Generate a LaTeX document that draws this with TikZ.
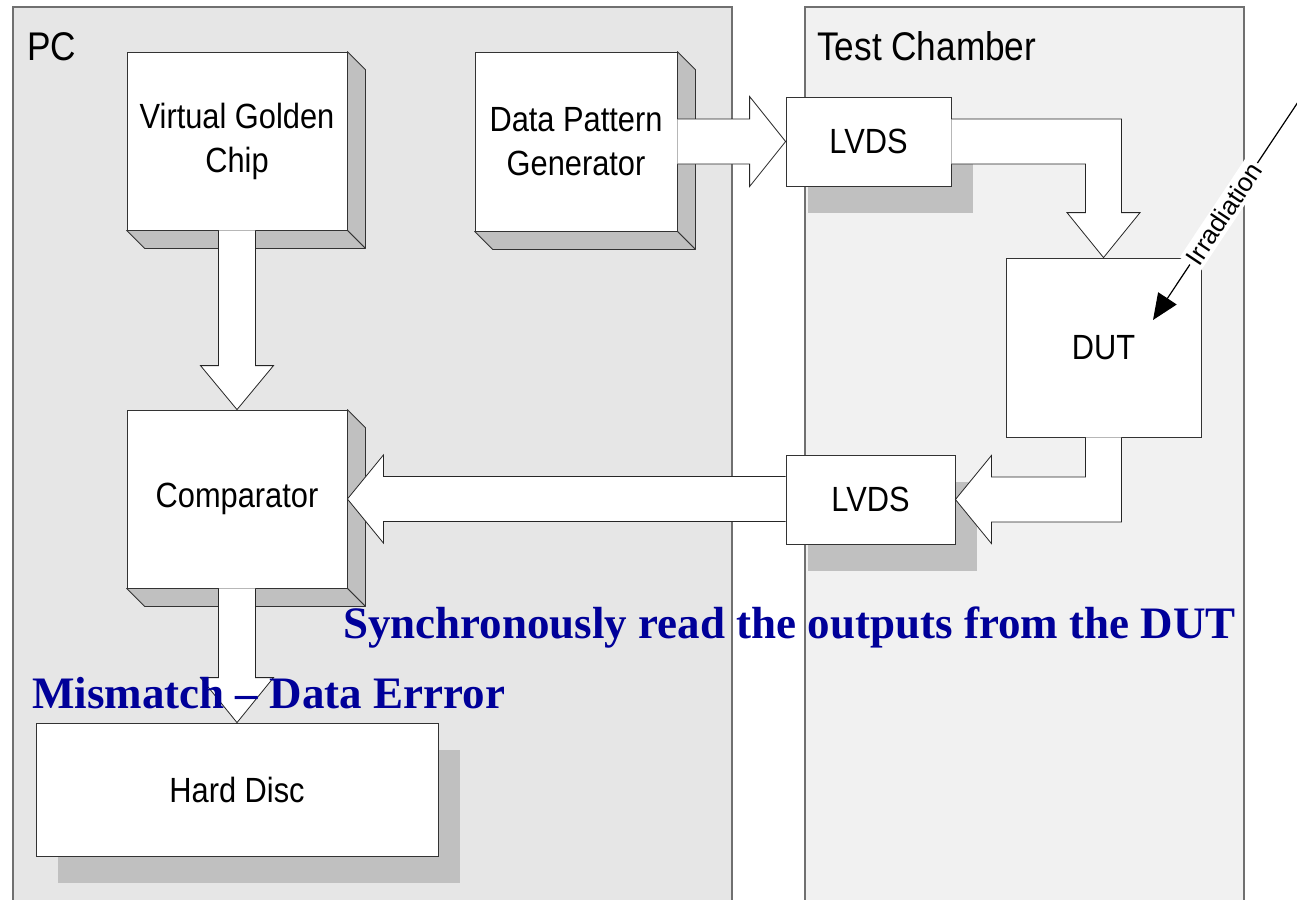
\documentclass[tikz,border=0pt]{standalone}
\usepackage{fontspec}
\setmainfont{Liberation Sans}[FakeStretch=0.88]
\newfontfamily\bluefam{Liberation Serif}
\newfontfamily\irrfam{Liberation Sans}
\usetikzlibrary{arrows.meta,calc,shadows}

\definecolor{pcfill}{HTML}{E6E6E6}
\definecolor{chfill}{HTML}{F1F1F1}
\definecolor{shade}{HTML}{C0C0C0}
\definecolor{panelline}{HTML}{707070}
\definecolor{navy}{HTML}{000099}

\newcommand\boxfont{\fontsize{35}{44}\selectfont}
\newcommand\titlefont{\fontsize{40}{48}\selectfont}
\newcommand\irrfont{\irrfam\fontsize{26}{30}\selectfont}
\newcommand\bluefont{\bluefam\bfseries\fontsize{45}{54}\selectfont}

\tikzset{
  panel/.style={draw=panelline, line width=1.2pt},
  frontbox/.style={draw=black!80, fill=white, line width=0.8pt, inner sep=0pt, align=center, font=\boxfont},
  shadowed/.style={drop shadow={opacity=1, fill=shade, shadow xshift=22pt, shadow yshift=-27pt}},
  sideface/.style={draw=black!80, fill=shade, line width=0.8pt, line join=round},
  blockarrow/.style={draw=black!85, fill=white, line width=0.8pt, line join=miter},
  bluetext/.style={text=navy, font=\bluefont, inner sep=0pt, anchor=base west},
  paneltitle/.style={font=\titlefont, inner sep=0pt, anchor=base west},
}

\newcommand\boxsides[1]{%
  \filldraw[sideface] (#1.north east) -- ++(18,18) -- ([shift={(18,18)}]#1.south east) -- (#1.south east) -- cycle;
  \filldraw[sideface] (#1.south west) -- ++(18,18) -- ([shift={(18,18)}]#1.south east) -- (#1.south east) -- cycle;}

\begin{document}
\begin{tikzpicture}[x=1pt,y=-1pt]
\useasboundingbox (0,0) rectangle (1297,899);
\clip (0,0) rectangle (1297,899);
\fill[white] (0,0) rectangle (1297,899);

% panels
\draw[panel, fill=pcfill] (13,7) rectangle (732,930);
\draw[panel, fill=chfill] (805,7) rectangle (1244,930);
\node[paneltitle] (pctitle) at (27,60) {PC};
\node[paneltitle] (chtitle) at (817,60) {Test Chamber};

% boxes
\node[frontbox, minimum width=220pt, minimum height=178pt] (vgc) at (237,141) {Virtual Golden\\Chip};
\node[frontbox, minimum width=202pt, minimum height=179pt] (dpg) at (576,141.5) {Data Pattern\\Generator};
\node[frontbox, minimum width=220pt, minimum height=178pt] (cmp) at (237,499) {Comparator};
\node[frontbox, shadowed, minimum width=402pt, minimum height=133pt] (hd) at (237,789.5) {Hard Disc};
\node[frontbox, shadowed, minimum width=165pt, minimum height=89pt] (lvdsa) at (868.5,141.5) {LVDS};
\node[frontbox, shadowed, minimum width=169pt, minimum height=89pt] (lvdsb) at (870.5,499.5) {LVDS};
\node[frontbox, minimum width=195pt, minimum height=179pt] (dut) at (1103.5,347.5) {DUT};

\boxsides{vgc}
\boxsides{dpg}
\boxsides{cmp}

% block arrows
\filldraw[blockarrow] let \p1=(vgc.south), \p2=(cmp.north) in
  ({\x1-18.5pt},{\y1}) -- ({\x1-18.5pt},{\y2+44pt}) -- ({\x1-36.5pt},{\y2+44pt}) -- (\p2)
  -- ({\x1+36.5pt},{\y2+44pt}) -- ({\x1+18.5pt},{\y2+44pt}) -- ({\x1+18.5pt},{\y1});
\filldraw[blockarrow] let \p1=(cmp.south), \p2=(hd.north) in
  ({\x1-18.5pt},{\y1}) -- ({\x1-18.5pt},{\y2+45pt}) -- ({\x1-36.5pt},{\y2+45pt}) -- (\p2)
  -- ({\x1+36.5pt},{\y2+45pt}) -- ({\x1+18.5pt},{\y2+45pt}) -- ({\x1+18.5pt},{\y1});
\filldraw[blockarrow] let \p1=(dpg.east), \p2=(lvdsa.west) in
  ({\x1},{\y1+22.5pt}) -- ({\x2-36pt},{\y1+22.5pt}) -- ({\x2-36pt},{\y1+45pt}) -- (\p2)
  -- ({\x2-36pt},{\y1-45pt}) -- ({\x2-36pt},{\y1-22.5pt}) -- ({\x1},{\y1-22.5pt});
\filldraw[blockarrow] let \p1=(lvdsa.east), \p2=(dut.north) in
  ({\x1},{\y1+22.5pt}) -- ({\x2+18pt},{\y1+22.5pt}) -- ({\x2+18pt},{\y2+45pt}) -- ({\x2+36.5pt},{\y2+45pt})
  -- (\p2) -- ({\x2-36.5pt},{\y2+45pt}) -- ({\x2-18pt},{\y2+45pt}) -- ({\x2-18pt},{\y1-22.5pt}) -- ({\x1},{\y1-22.5pt});
\filldraw[blockarrow] let \p1=(dut.south), \p2=(lvdsb.east) in
  ({\x1-18pt},{\y1}) -- ({\x1-18pt},{\y2+22.5pt}) -- ({\x2+36pt},{\y2+22.5pt}) -- ({\x2+36pt},{\y2+44pt})
  -- (\p2) -- ({\x2+36pt},{\y2-44pt}) -- ({\x2+36pt},{\y2-22.5pt}) -- ({\x1+18pt},{\y2-22.5pt}) -- ({\x1+18pt},{\y1});
\filldraw[blockarrow] let \p1=(lvdsb.west), \p2=(cmp.east) in
  ({\x1},{\y2+22.5pt}) -- ({\x2+36pt},{\y2+22.5pt}) -- ({\x2+36pt},{\y2+44pt}) -- (\p2)
  -- ({\x2+36pt},{\y2-44pt}) -- ({\x2+36pt},{\y2-22.5pt}) -- ({\x1},{\y2-22.5pt});

% irradiation
\coordinate (rsrc) at (1310,84);
\coordinate (rtip) at (1153,320);
\draw[line width=1.2pt, -{Triangle[length=26pt,width=22pt]}] (rsrc) --
  node[sloped, pos=0.55, fill=white, inner sep=3pt, font=\irrfont] (irr) {Irradiation} (rtip);

% blue captions
\node[bluetext] (sync) at (343,638) {Synchronously read the outputs from the DUT};
\node[bluetext] (mism) at (32,708) {Mismatch – Data Errror};
\end{tikzpicture}
\end{document}
